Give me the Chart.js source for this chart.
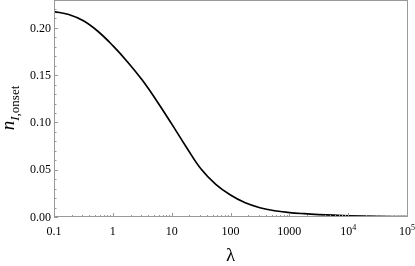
<!DOCTYPE html>
<html>
<head>
<meta charset="utf-8">
<script src="https://cdn.jsdelivr.net/npm/chart.js@4"></script>
<style>
  html, body { margin: 0; padding: 0; background: #fff; }
  #wrap { width: 415px; height: 266px; }
</style>
</head>
<body>
<div id="wrap"><canvas id="chart"></canvas></div>
<script>
// lambda values (log spaced) and the onset curve
const lambdas = [0.1, 0.178, 0.316, 0.562, 1, 1.78, 3.16, 5.62, 10, 17.8, 31.6, 56.2,
  100, 178, 316, 562, 1000, 1780, 3160, 5620, 10000, 31600, 100000];
const onsetValues = [0.2172, 0.2142, 0.2075, 0.1962, 0.1812, 0.1640, 0.1448, 0.1225,
  0.0985, 0.0738, 0.0507, 0.0345, 0.0232, 0.0150, 0.0098, 0.0066, 0.0047, 0.0035,
  0.0026, 0.0019, 0.0013, 0.0007, 0.0003];

// tick labels
const xTicks = [0.1, 1, 10, 100, 1000, 10000, 100000];
const xTickLabels = [['0.1'], ['1'], ['10'], ['100'], ['1000'], ['10', '4'], ['10', '5']];
const yTicks = [0, 0.05, 0.10, 0.15, 0.20];
const yTickLabels = ['0.00', '0.05', '0.10', '0.15', '0.20'];

const SERIF = '"Liberation Serif", "Times New Roman", serif';
const frameColor = '#999999';

// frame, inward ticks and labels (Mathematica style)
const framePlugin = {
  id: 'frame',
  afterDraw(chart) {
    const { ctx, chartArea: a } = chart;
    const xs = chart.scales.x, ys = chart.scales.y;
    ctx.save();
    ctx.strokeStyle = frameColor;
    ctx.lineWidth = 1;
    ctx.strokeRect(Math.round(a.left) + 0.5, Math.round(a.top) + 0.5,
      Math.round(a.right - a.left), Math.round(a.bottom - a.top) - 1);

    // y ticks: majors every 0.05, minors every 0.01
    ctx.beginPath();
    for (let i = 0; i <= 22; i++) {
      const v = i / 100;
      const py = Math.round(ys.getPixelForValue(v)) + 0.5;
      const len = i % 5 === 0 ? 4 : 2.5;
      ctx.moveTo(a.left, py);
      ctx.lineTo(a.left + len, py);
    }
    // x ticks: decades with 2..9 minors
    for (let k = -1; k <= 4; k++) {
      for (let m = 1; m <= 9; m++) {
        const px = Math.round(xs.getPixelForValue(m * Math.pow(10, k))) + 0.5;
        const len = m === 1 ? 4 : 2;
        ctx.moveTo(px, a.bottom);
        ctx.lineTo(px, a.bottom - len);
      }
    }
    ctx.stroke();

    ctx.fillStyle = '#000';
    ctx.font = '12px ' + SERIF;
    ctx.textBaseline = 'middle';
    ctx.textAlign = 'right';
    yTicks.forEach((v, i) => {
      ctx.fillText(yTickLabels[i], a.left - 3, ys.getPixelForValue(v) + 0.5);
    });

    ctx.textBaseline = 'alphabetic';
    ctx.textAlign = 'left';
    xTicks.forEach((v, i) => {
      const px = xs.getPixelForValue(v);
      const [base, sup] = xTickLabels[i];
      ctx.font = '12px ' + SERIF;
      const wb = ctx.measureText(base).width;
      let ws = 0;
      if (sup) { ctx.font = '8px ' + SERIF; ws = ctx.measureText(sup).width; }
      const x0 = px - (wb + ws) / 2;
      ctx.font = '12px ' + SERIF;
      ctx.fillText(base, x0, 235);
      if (sup) { ctx.font = '8px ' + SERIF; ctx.fillText(sup, x0 + wb, 230); }
    });

    // axis titles
    ctx.font = '19px ' + SERIF;
    ctx.textAlign = 'center';
    ctx.fillText('\u03bb', (a.left + a.right) / 2, 261);

    ctx.translate(14, 108);
    ctx.rotate(-Math.PI / 2);
    ctx.textAlign = 'left';
    ctx.font = 'italic 19px ' + SERIF;
    const wn = ctx.measureText('n').width;
    ctx.font = 'italic 13px ' + SERIF;
    const wi = ctx.measureText('I').width;
    ctx.font = '13px ' + SERIF;
    const wr = ctx.measureText(',onset').width;
    const start = -(wn + wi + wr) / 2;
    ctx.font = 'italic 19px ' + SERIF;
    ctx.fillText('n', start, 0);
    ctx.font = 'italic 13px ' + SERIF;
    ctx.fillText('I', start + wn, 5);
    ctx.font = '13px ' + SERIF;
    ctx.fillText(',onset', start + wn + wi, 5);
    ctx.restore();
  }
};

new Chart(document.getElementById('chart'), {
  type: 'line',
  data: {
    datasets: [{
      data: lambdas.map((l, i) => ({ x: l, y: onsetValues[i] })),
      borderColor: '#000',
      borderWidth: 1.7,
      pointRadius: 0,
      tension: 0.4,
      fill: false
    }]
  },
  options: {
    responsive: true,
    maintainAspectRatio: false,
    animation: false,
    layout: { padding: { left: 54, right: 8, top: 0, bottom: 49 } },
    plugins: { legend: { display: false }, tooltip: { enabled: false } },
    scales: {
      x: { type: 'logarithmic', min: 0.1, max: 100000, display: false },
      y: { type: 'linear', min: 0, max: 0.2295, display: false }
    }
  },
  plugins: [framePlugin]
});
</script>
</body>
</html>
